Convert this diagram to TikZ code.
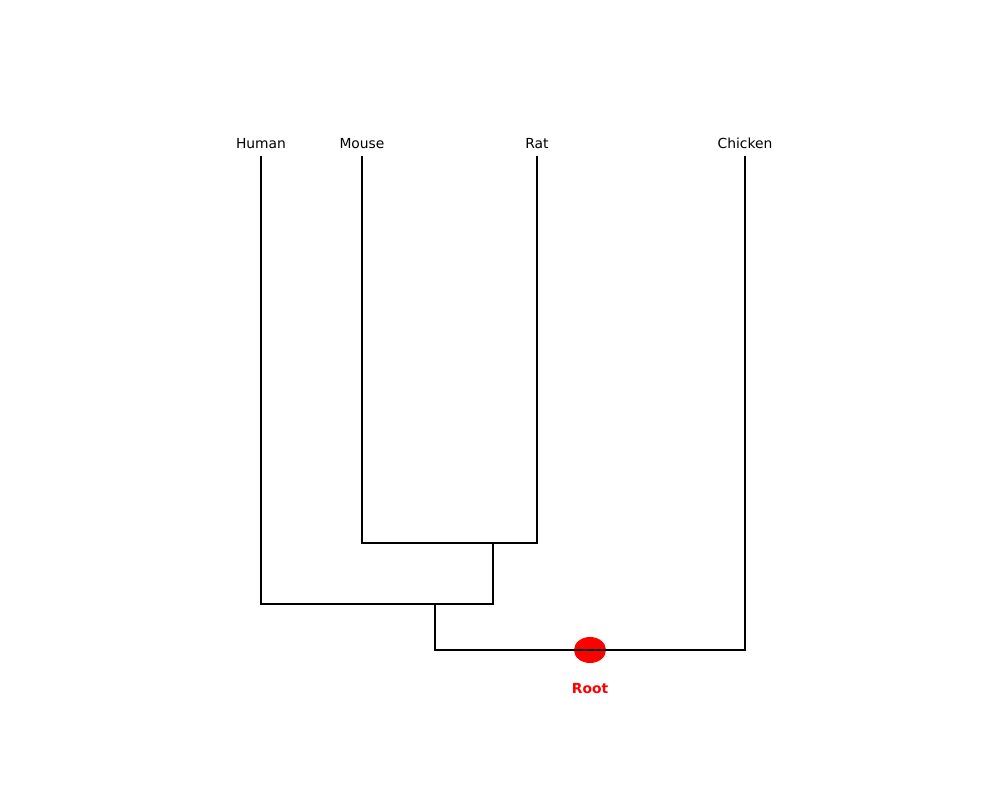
\documentclass[tikz,border=0pt]{standalone}
\usepackage{fontspec}
\setmainfont{DejaVu Sans}
\usetikzlibrary{shapes.geometric}
\begin{document}
\begin{tikzpicture}[x=0.01in,y=-0.01in,
  leaf/.style={font=\fontsize{10}{12}\selectfont, inner sep=0pt, anchor=base},
  branch/.style={line width=1.5pt, line join=miter, line cap=rect}]
\useasboundingbox (0,0) rectangle (1000,800);
\node[leaf] (human) at (261,148.5) {Human};
\node[leaf] (mouse) at (362,148.5) {Mouse};
\node[leaf] (rat) at (537,148.5) {Rat};
\node[leaf] (chicken) at (745,148.5) {Chicken};
\coordinate (hTop) at (261,157);
\coordinate (mTop) at (362,157);
\coordinate (rTop) at (537,157);
\coordinate (cTop) at (745,157);
\coordinate (mBot) at (362,543);
\coordinate (rBot) at (537,543);
\coordinate (mrJ) at (493,543);
\coordinate (mrB) at (493,604);
\coordinate (hBot) at (261,604);
\coordinate (hmrJ) at (435,604);
\coordinate (hmrB) at (435,650);
\coordinate (cBot) at (745,650);
\node[ellipse, fill=red, draw=none, minimum width=0.32in, minimum height=0.26in, inner sep=0pt] (root) at (590,650) {};
\node[font=\fontsize{10}{12}\selectfont\bfseries, text=red, inner sep=0pt, anchor=base] (rootlabel) at (590,693) {Root};
\draw[branch] (mTop) -- (mBot) -- (rBot) -- (rTop);
\draw[branch] (mrJ) -- (mrB) -- (hBot) -- (hTop);
\draw[branch] (hmrJ) -- (hmrB) -- (cBot) -- (cTop);
\end{tikzpicture}
\end{document}
